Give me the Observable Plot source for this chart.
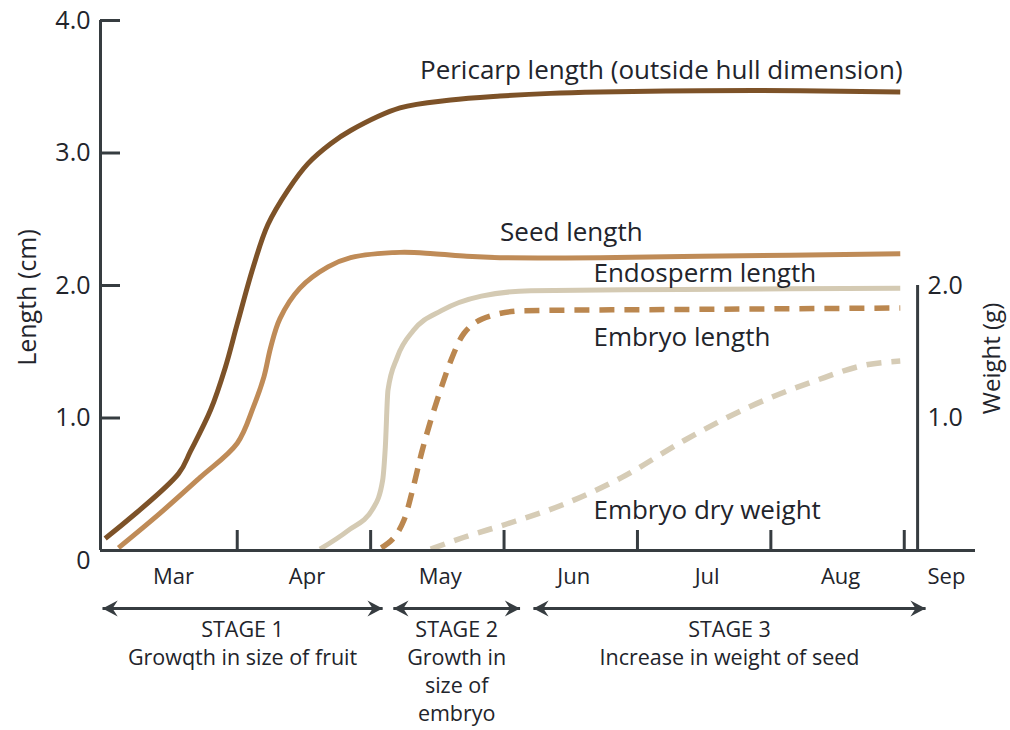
<!DOCTYPE html>
<html>
<head>
<meta charset="utf-8">
<script src="https://cdn.jsdelivr.net/npm/d3@7"></script>
<script src="https://cdn.jsdelivr.net/npm/@observablehq/plot@0.6"></script>
<style>
  html, body { margin: 0; padding: 0; background: #ffffff; }
  #chart { width: 1010px; height: 730px; }
</style>
</head>
<body>
<div id="chart"></div>
<script>
// ---- data (x = months after 1 March, y = cm / g) ----
const months = ["Mar", "Apr", "May", "Jun", "Jul", "Aug", "Sep"];
const monthTicks = [1, 2, 3, 4, 5, 6];
const lengthTicks = [1, 2, 3, 4];
const weightTicks = [1, 2];

const pericarp = [[0.01,0.09],[0.56,0.58],[0.65,0.75],[0.80,1.06],[0.91,1.38],[1.00,1.71],[1.12,2.14],[1.23,2.46],[1.38,2.72],[1.53,2.92],[1.70,3.07],[1.85,3.17],[2.22,3.34],[2.60,3.40],[2.97,3.43],[3.35,3.45],[3.72,3.46],[4.47,3.47],[5.22,3.47],[5.97,3.46]];
const seed = [[0.11,0.02],[0.42,0.28],[0.72,0.55],[1.00,0.81],[1.12,1.08],[1.20,1.31],[1.25,1.53],[1.32,1.75],[1.47,1.98],[1.68,2.14],[1.85,2.21],[2.22,2.25],[2.47,2.24],[2.72,2.22],[2.97,2.21],[3.72,2.21],[4.47,2.22],[5.97,2.24]];
const endosperm = [[1.62,0.01],[1.83,0.15],[2.02,0.32],[2.09,0.53],[2.11,0.78],[2.13,1.21],[2.20,1.46],[2.32,1.66],[2.53,1.81],[2.83,1.92],[3.20,1.96],[4.33,1.97],[5.97,1.98]];
const embryoLength = [[2.08,0.02],[2.25,0.23],[2.32,0.48],[2.38,0.73],[2.45,0.98],[2.53,1.23],[2.60,1.43],[2.70,1.64],[2.90,1.77],[3.15,1.81],[4.47,1.82],[5.97,1.83]];
const embryoDryWeight = [[2.45,0.01],[2.70,0.10],[3.02,0.20],[3.45,0.35],[3.88,0.55],[4.35,0.83],[4.83,1.08],[5.33,1.28],[5.71,1.40],[5.97,1.43]];

const seriesNames = ["Pericarp length (outside hull dimension)", "Seed length", "Endosperm length", "Embryo length", "Embryo dry weight"];
const labelAt = [[2.37,3.62],[2.97,2.40],[3.67,2.09],[3.67,1.61],[3.67,0.30]];

const stageNames = ["STAGE 1", "STAGE 2", "STAGE 3"];
const stageDescriptions = ["Growqth in size of fruit", "Growth in\nsize of\nembryo", "Increase in weight of seed"];
const stageStart = [-0.01, 2.17, 3.22];
const stageEnd = [2.09, 3.12, 6.16];

const weightAxisAt = 6.10;

// ---- styles ----
const xDomain = [-0.025, 6.534];
const axisColor = "#363c40";
const textColor = "#22242b";
const font = "'Open Sans', 'Noto Sans', sans-serif";
const W = 1010, H = 730, mL = 100, mR = 35, mT = 20, mB = 180;
const innerW = W - mL - mR, innerH = H - mT - mB;

const seriesStyle = [
  {color: "#7d5228", dash: null, width: 5, curve: "catmull-rom"},
  {color: "#bf8b57", dash: null, width: 5, curve: "catmull-rom"},
  {color: "#d4cab3", dash: null, width: 5, curve: "monotone-x"},
  {color: "#bb874f", dash: "15,10", width: 5.5, curve: "monotone-x"},
  {color: "#d6ccb6", dash: "15,10", width: 5.5, curve: "monotone-x"}
];
const seriesData = [pericarp, seed, endosperm, embryoLength, embryoDryWeight];

const lineMarks = seriesData.map((pts, i) =>
  Plot.line(pts.map(([m, v]) => ({m, v})), {
    x: "m", y: "v", curve: seriesStyle[i].curve,
    stroke: seriesStyle[i].color,
    strokeWidth: seriesStyle[i].width,
    strokeDasharray: seriesStyle[i].dash,
    strokeLinecap: "butt"
  })
);

const labels = seriesNames.map((name, i) => ({name, m: labelAt[i][0], v: labelAt[i][1]}));
const stages = stageNames.map((s, i) => ({
  text: s + "\n" + stageDescriptions[i],
  start: stageStart[i], end: stageEnd[i], mid: (stageStart[i] + stageEnd[i]) / 2
}));
const stageHeads = stages.flatMap(s => [{m: s.start, dir: "left"}, {m: s.end, dir: "right"}]);

function head(dir) {
  const k = dir === "right" ? 1 : -1;
  return {
    draw(ctx, size) {
      const s = Math.sqrt(size / Math.PI);
      ctx.moveTo(0, 0);
      ctx.lineTo(-k * 1.9 * s, -s);
      ctx.lineTo(-k * 1.25 * s, 0);
      ctx.lineTo(-k * 1.9 * s, s);
      ctx.closePath();
    }
  };
}
const headRight = head("right"), headLeft = head("left");

const monthLabels = months.map((name, i) => ({name, m: Math.min(i + 0.5, xDomain[1] - 0.24)}));

const chart = Plot.plot({
  width: W, height: H,
  marginLeft: mL, marginRight: mR, marginTop: mT, marginBottom: mB,
  x: {domain: xDomain, axis: null},
  y: {domain: [0, 4], axis: null},
  style: {fontFamily: font, background: "#ffffff", color: textColor, overflow: "visible"},
  marks: [
    ...lineMarks,
    // left axis
    Plot.ruleX([xDomain[0]], {y1: 0, y2: 4, stroke: axisColor, strokeWidth: 3}),
    Plot.tickY(lengthTicks, {y: d => d, insetRight: innerW - 20, stroke: axisColor, strokeWidth: 3}),
    Plot.text(lengthTicks, {x: xDomain[0], y: d => d, text: d => d.toFixed(1), dx: -10, textAnchor: "end", fontSize: 25, fill: textColor}),
    Plot.text([0], {x: xDomain[0], y: d => d, text: d => String(d), dx: -10, dy: 10, textAnchor: "end", fontSize: 25, fill: textColor}),
    // x axis
    Plot.ruleY([0], {stroke: axisColor, strokeWidth: 3}),
    Plot.tickX(monthTicks, {x: d => d, insetTop: innerH - 20, stroke: axisColor, strokeWidth: 3}),
    Plot.text(monthLabels, {x: "m", y: 0, text: "name", dx: 3, dy: 26, fontSize: 22, fill: textColor}),
    // right (weight) axis
    Plot.ruleX([weightAxisAt], {y1: 0, y2: 2, stroke: axisColor, strokeWidth: 3}),
    Plot.text(weightTicks, {x: weightAxisAt, y: d => d, text: d => d.toFixed(1), dx: 10, textAnchor: "start", fontSize: 25, fill: textColor}),
    // axis titles
    Plot.text(["Length (cm)"], {frameAnchor: "left", textAnchor: "middle", rotate: -90, dx: -73, dy: 12, fontSize: 25, fill: textColor}),
    Plot.text(["Weight (g)"], {frameAnchor: "right", textAnchor: "middle", rotate: -90, dx: 17, dy: 73, fontSize: 24, fill: textColor}),
    // series labels
    Plot.text(labels, {x: "m", y: "v", text: "name", textAnchor: "start", fontSize: 26, fill: textColor}),
    // stages
    Plot.link(stages, {x1: "start", x2: "end", y1: 0, y2: 0, dy: 58, stroke: axisColor, strokeWidth: 3}),
    Plot.dot(stageHeads.filter(d => d.dir === "right"), {x: "m", y: 0, dy: 58, r: 8, symbol: headRight, fill: axisColor, stroke: "none"}),
    Plot.dot(stageHeads.filter(d => d.dir === "left"), {x: "m", y: 0, dy: 58, r: 8, symbol: headLeft, fill: axisColor, stroke: "none"}),
    Plot.text(stages, {x: "mid", y: 0, text: "text", dy: 67, lineAnchor: "top", lineHeight: 1.3, fontSize: 21.5, fill: textColor})
  ]
});
document.getElementById("chart").appendChild(chart);
</script>
</body>
</html>
